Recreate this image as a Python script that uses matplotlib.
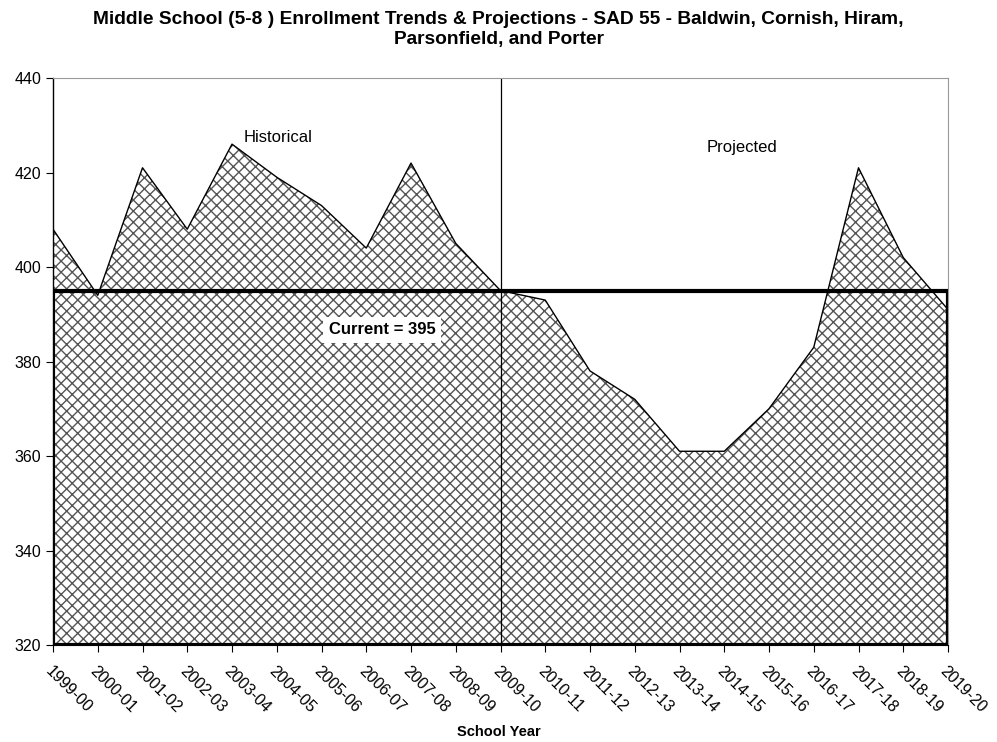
import matplotlib.pyplot as plt
import matplotlib as mpl

plt.rcParams['font.family'] = ['Liberation Sans', 'DejaVu Sans']
mpl.rcParams['hatch.color'] = '#555555'
mpl.rcParams['hatch.linewidth'] = 1.0

years = ['1999-00', '2000-01', '2001-02', '2002-03', '2003-04', '2004-05',
         '2005-06', '2006-07', '2007-08', '2008-09', '2009-10', '2010-11',
         '2011-12', '2012-13', '2013-14', '2014-15', '2015-16', '2016-17',
         '2017-18', '2018-19', '2019-20']
enrollment = [408, 394, 421, 408, 426, 419, 413, 404, 422, 405, 395, 393,
              378, 372, 361, 361, 370, 383, 421, 402, 391]
current = 395
split_year = '2009-10'

x = list(range(len(years)))

fig = plt.figure(figsize=(9.97, 7.42), dpi=100)
ax = fig.add_axes([53 / 997, 1 - 645 / 742, 895 / 997, 567 / 742])

ax.fill_between(x, 320, enrollment, facecolor='white', edgecolor='#555555',
                hatch='xxx', linewidth=0)
ax.plot(x, enrollment, color='black', linewidth=1)

# current level box
ax.plot([0, len(years) - 1, len(years) - 1], [current, current, 320],
        color='black', linewidth=3, solid_capstyle='projecting')
ax.axhline(320, color='black', linewidth=3)
ax.axvline(0, color='black', linewidth=3, ymax=(current - 320) / 120)

split = years.index(split_year)
ax.axvline(split, color='black', linewidth=0.9)

ax.text(4.25, 427.5, 'Historical', fontsize=12, va='center')
ax.text(14.6, 425.2, 'Projected', fontsize=12, va='center')
ax.text(7.35, 386.7, 'Current = 395', fontsize=12, fontweight='bold', ha='center',
        va='center', bbox=dict(facecolor='white', edgecolor='none', pad=4))

ax.set_xlim(0, len(years) - 1)
ax.set_ylim(320, 440)
ax.set_yticks(range(320, 441, 20))
ax.set_xticks(x)
ax.set_xticklabels(years, rotation=-45, ha='left', va='top',
                   rotation_mode='anchor', fontsize=11.5)
ax.tick_params(axis='y', labelsize=11.5, length=5)
ax.tick_params(axis='x', length=5, pad=8)

for s in ['top', 'right']:
    ax.spines[s].set_color('#999999')
ax.spines['left'].set_linewidth(1)

fig.text(0.5, 1 - 732 / 742, 'School Year', fontsize=10.5, fontweight='bold',
         ha='center', va='center')
fig.suptitle('Middle School (5-8 ) Enrollment Trends & Projections - SAD 55 - Baldwin, Cornish, Hiram,\nParsonfield, and Porter',
             fontsize=13.8, fontweight='bold', y=0.985, x=0.5)

fig.savefig('out.png', dpi=100)
